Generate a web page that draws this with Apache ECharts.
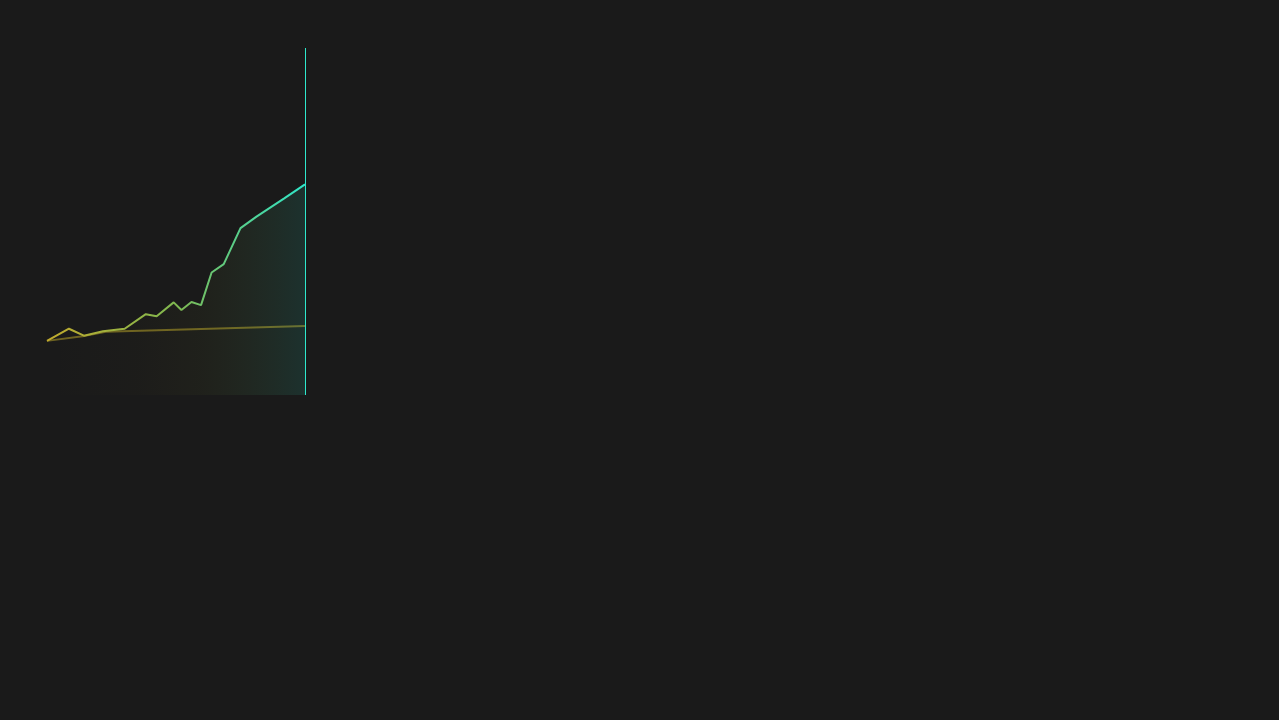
<!DOCTYPE html>
<html>
<head>
<meta charset="utf-8">
<script src="https://cdn.jsdelivr.net/npm/echarts@6/dist/echarts.min.js"></script>
<style>
html,body{margin:0;padding:0;background:#1a1a1a;}
#chart{width:1279px;height:720px;}
</style>
</head>
<body>
<div id="chart"></div>
<script>
// x positions (time index 0..100) and values (0..100 scale)
const mainX = [0, 8.5, 14.3, 21.7, 30.1, 38.3, 42.5, 49.1, 52.1, 56.0, 59.7, 63.8, 68.5, 75.0, 81.2, 91.8, 100];
const mainY = [15.6, 19.1, 17.1, 18.4, 19.1, 23.3, 22.7, 26.7, 24.5, 26.8, 25.9, 35.3, 37.7, 48.1, 51.4, 56.6, 60.7];
const benchX = [0, 13.8, 22.8, 100];
const benchY = [15.6, 16.9, 18.2, 19.9];

const mainData = mainX.map((x, i) => [x, mainY[i]]);
const benchData = benchX.map((x, i) => [x, benchY[i]]);

const chart = echarts.init(document.getElementById('chart'));
chart.setOption({
  backgroundColor: '#1a1a1a',
  animation: false,
  grid: { left: 47, right: 974, top: 48, bottom: 325 },
  xAxis: { type: 'value', min: 0, max: 100, show: false },
  yAxis: { type: 'value', min: 0, max: 100, show: false },
  series: [
    {
      type: 'line',
      data: benchData,
      symbol: 'none',
      lineStyle: { width: 2, color: 'rgba(180,160,40,0.55)' },
      z: 1
    },
    {
      type: 'line',
      data: mainData,
      symbol: 'none',
      z: 2,
      lineStyle: {
        width: 2,
        color: new echarts.graphic.LinearGradient(0, 0, 1, 0, [
          { offset: 0, color: '#c2aa2c' },
          { offset: 0.5, color: '#7fb850' },
          { offset: 1, color: '#2ee8cc' }
        ])
      },
      areaStyle: {
        color: new echarts.graphic.LinearGradient(0, 0, 1, 0, [
          { offset: 0, color: 'rgba(200,180,40,0)' },
          { offset: 0.35, color: 'rgba(200,180,40,0.02)' },
          { offset: 0.6, color: 'rgba(160,190,60,0.06)' },
          { offset: 1, color: 'rgba(46,232,204,0.16)' }
        ])
      },
      markLine: {
        silent: true,
        symbol: 'none',
        label: { show: false },
        lineStyle: { color: '#2ee8cc', width: 1, type: 'solid' },
        data: [{ xAxis: 100 }]
      }
    }
  ]
});
</script>
</body>
</html>
